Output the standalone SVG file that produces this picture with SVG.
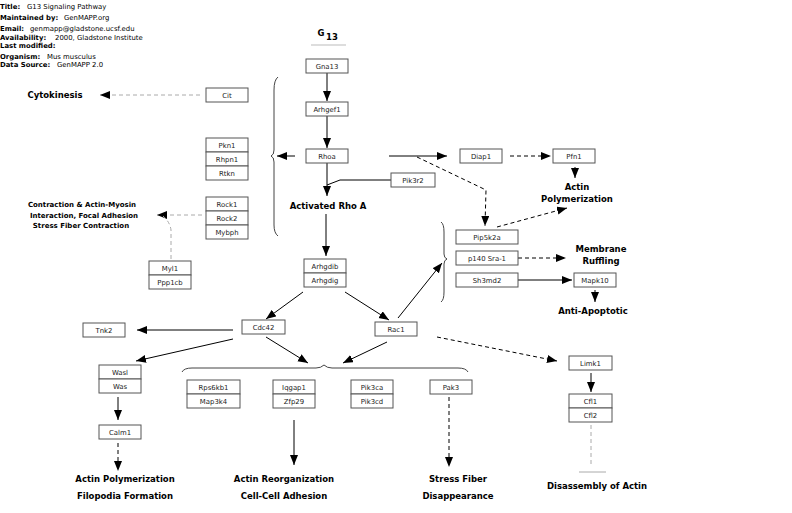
<svg xmlns="http://www.w3.org/2000/svg" width="792" height="513" viewBox="0 0 792 513">
<style>
.box{fill:#fff;stroke:#555;stroke-width:1}
.lbl{font-family:"DejaVu Sans",sans-serif;font-size:6.9px;text-anchor:middle;fill:#222}
.bl{font-family:"DejaVu Sans",sans-serif;font-weight:bold;font-size:8.5px;text-anchor:middle;fill:#000}
.sm{font-family:"DejaVu Sans",sans-serif;font-weight:bold;font-size:7px;text-anchor:middle;fill:#000}
.hd{font-family:"DejaVu Sans",sans-serif;font-size:6.9px;fill:#000}
.hd .k{font-weight:bold}
.ln{stroke:#000;stroke-width:1;fill:none}
.d{stroke-dasharray:4 3}
.g{stroke:#aaa}
.br{stroke:#444;stroke-width:1;fill:none}
</style>
<defs>
<marker id="a" markerUnits="userSpaceOnUse" markerWidth="11" markerHeight="9" refX="10" refY="4" orient="auto">
<path d="M0,0 L10,4 L0,8 z" fill="#000"/>
</marker>
<clipPath id="hc"><rect x="0" y="0" width="143" height="80"/></clipPath>
</defs>

<g id="header" class="hd" clip-path="url(#hc)">
<text y="8.5"><tspan class="k" x="0">Title:</tspan><tspan x="27">G13 Signaling Pathway</tspan></text>
<text y="19.5"><tspan class="k" x="0">Maintained by:</tspan><tspan x="64">GenMAPP.org</tspan></text>
<text y="30.5"><tspan class="k" x="0">Email:</tspan><tspan x="30">genmapp@gladstone.ucsf.edu</tspan></text>
<text y="39.5"><tspan class="k" x="0">Availability:</tspan><tspan x="55">2000, Gladstone Institute</tspan></text>
<text y="47.5"><tspan class="k" x="0">Last modified:</tspan></text>
<text y="58.5"><tspan class="k" x="0">Organism:</tspan><tspan x="47">Mus musculus</tspan></text>
<text y="66.5"><tspan class="k" x="0">Data Source:</tspan><tspan x="57">GenMAPP 2.0</tspan></text>
</g>

<g id="title-g13">
<text x="321" y="36" class="bl">G</text>
<text x="332" y="39.5" class="bl">13</text>
<line x1="311" y1="45" x2="346" y2="45" stroke="#bbb" stroke-width="1"/>
</g>

<g id="connectors">
<path class="ln" d="M327,73 L327,101" marker-end="url(#a)"/>
<path class="ln" d="M327,116 L327,148" marker-end="url(#a)"/>
<path class="ln" d="M327,163 L327,196" marker-end="url(#a)"/>
<path class="ln" d="M391,180 L340,180 L327,185"/>
<path class="ln" d="M295,156 L277,156" marker-end="url(#a)"/>
<path class="ln" d="M389,156 L447,156" marker-end="url(#a)"/>
<path class="ln d" d="M417,157 L486,190 L485,226" marker-end="url(#a)"/>
<path class="ln d" d="M510,156 L551,156" marker-end="url(#a)"/>
<path class="ln" d="M575,167 L575,178" marker-end="url(#a)"/>
<path class="ln d" d="M497,227 L567,208" marker-end="url(#a)"/>
<path class="ln d" d="M518,258 L566,258" marker-end="url(#a)"/>
<path class="ln" d="M518,280 L572,280" marker-end="url(#a)"/>
<path class="ln" d="M595,290 L595,302" marker-end="url(#a)"/>
<path class="ln d g" d="M200,95 L100,95" marker-end="url(#a)"/>
<path class="ln d g" d="M202,215 L157,215" marker-end="url(#a)"/>
<path class="ln d g" d="M171,259 L171,230 Q170,222 163,216"/>
<path class="ln" d="M326,214 L326,256" marker-end="url(#a)"/>
<path class="ln" d="M303,292 L266,319" marker-end="url(#a)"/>
<path class="ln" d="M345,292 L389,320" marker-end="url(#a)"/>
<path class="ln" d="M398,318 L442,263" marker-end="url(#a)"/>
<path class="ln" d="M233,330 L137,330" marker-end="url(#a)"/>
<path class="ln" d="M233,339 L136,361" marker-end="url(#a)"/>
<path class="ln" d="M266,337 L308,363" marker-end="url(#a)"/>
<path class="ln" d="M387,342 L343,363" marker-end="url(#a)"/>
<path class="ln d" d="M437,337 L557,361" marker-end="url(#a)"/>
<path class="ln" d="M591,373 L591,392" marker-end="url(#a)"/>
<path class="ln d g" d="M591,425 L591,466"/>
<path class="ln g" d="M579,472 L606,472"/>
<path class="ln d" d="M449,397 L449,467" marker-end="url(#a)"/>
<path class="ln" d="M294,420 L294,465" marker-end="url(#a)"/>
<path class="ln" d="M118,397 L118,420" marker-end="url(#a)"/>
<path class="ln d" d="M118,443 L118,471" marker-end="url(#a)"/>
<path class="br" d="M278,77 Q274,80 274,90 L274,150 Q274,155 271,156 Q274,157 274,162 L274,225 Q274,233 278,236"/>
<path class="br" d="M441,222 Q444,224 444,232 L444,254 Q444,258 447,259 Q444,260 444,264 L444,292 Q444,300 441,302"/>
<path class="br" d="M182,372 Q184,368 192,368 L316,368 Q321,368 324,365 Q327,368 332,368 L458,368 Q466,368 468,372"/>
</g>

<g id="Gna13"><rect class="box" x="306" y="59" width="42" height="14"/><text class="lbl" x="327" y="68.5">Gna13</text></g>
<g id="Arhgef1"><rect class="box" x="306" y="102" width="42" height="14"/><text class="lbl" x="327" y="111.5">Arhgef1</text></g>
<g id="Rhoa"><rect class="box" x="306" y="149" width="42" height="14"/><text class="lbl" x="327" y="158.5">Rhoa</text></g>
<g id="Pik3r2"><rect class="box" x="391" y="173" width="44" height="14"/><text class="lbl" x="413" y="182.5">Pik3r2</text></g>
<g id="Diap1"><rect class="box" x="460" y="149" width="42" height="14"/><text class="lbl" x="481" y="158.5">Diap1</text></g>
<g id="Pfn1"><rect class="box" x="553" y="149" width="42" height="14"/><text class="lbl" x="574" y="158.5">Pfn1</text></g>
<g id="Cit"><rect class="box" x="206" y="88" width="42" height="14"/><text class="lbl" x="227" y="97.5">Cit</text></g>
<g id="Pkn1"><rect class="box" x="206" y="138" width="42" height="14"/><text class="lbl" x="227" y="147.5">Pkn1</text></g>
<g id="Rhpn1"><rect class="box" x="206" y="152" width="42" height="14"/><text class="lbl" x="227" y="161.5">Rhpn1</text></g>
<g id="Rtkn"><rect class="box" x="206" y="166" width="42" height="14"/><text class="lbl" x="227" y="175.5">Rtkn</text></g>
<g id="Rock1"><rect class="box" x="206" y="197" width="42" height="14"/><text class="lbl" x="227" y="206.5">Rock1</text></g>
<g id="Rock2"><rect class="box" x="206" y="211" width="42" height="14"/><text class="lbl" x="227" y="220.5">Rock2</text></g>
<g id="Mybph"><rect class="box" x="206" y="225" width="42" height="14"/><text class="lbl" x="227" y="234.5">Mybph</text></g>
<g id="Myl1"><rect class="box" x="149" y="261" width="42" height="14"/><text class="lbl" x="170" y="270.5">Myl1</text></g>
<g id="Ppp1cb"><rect class="box" x="149" y="275" width="42" height="14"/><text class="lbl" x="170" y="284.5">Ppp1cb</text></g>
<g id="Arhgdib"><rect class="box" x="304" y="259" width="42" height="14"/><text class="lbl" x="325" y="268.5">Arhgdib</text></g>
<g id="Arhgdig"><rect class="box" x="304" y="273" width="42" height="14"/><text class="lbl" x="325" y="282.5">Arhgdig</text></g>
<g id="Cdc42"><rect class="box" x="242" y="320" width="43" height="14"/><text class="lbl" x="263.5" y="329.5">Cdc42</text></g>
<g id="Rac1"><rect class="box" x="375" y="322" width="42" height="14"/><text class="lbl" x="396" y="331.5">Rac1</text></g>
<g id="Tnk2"><rect class="box" x="83" y="323" width="42" height="14"/><text class="lbl" x="104" y="332.5">Tnk2</text></g>
<g id="Pip5k2a"><rect class="box" x="456" y="230" width="62" height="14"/><text class="lbl" x="487" y="239.5">Pip5k2a</text></g>
<g id="p140Sra1"><rect class="box" x="456" y="251" width="62" height="14"/><text class="lbl" x="487" y="260.5">p140 Sra-1</text></g>
<g id="Sh3md2"><rect class="box" x="456" y="273" width="62" height="14"/><text class="lbl" x="487" y="282.5">Sh3md2</text></g>
<g id="Mapk10"><rect class="box" x="574" y="273" width="42" height="14"/><text class="lbl" x="595" y="282.5">Mapk10</text></g>
<g id="Limk1"><rect class="box" x="569" y="356" width="43" height="14"/><text class="lbl" x="590.5" y="365.5">Limk1</text></g>
<g id="Cfl1"><rect class="box" x="569" y="394" width="43" height="14"/><text class="lbl" x="590.5" y="403.5">Cfl1</text></g>
<g id="Cfl2"><rect class="box" x="569" y="408" width="43" height="14"/><text class="lbl" x="590.5" y="417.5">Cfl2</text></g>
<g id="Wasl"><rect class="box" x="99" y="365" width="42" height="14"/><text class="lbl" x="120" y="374.5">Wasl</text></g>
<g id="Was"><rect class="box" x="99" y="379" width="42" height="14"/><text class="lbl" x="120" y="388.5">Was</text></g>
<g id="Calm1"><rect class="box" x="99" y="425" width="42" height="14"/><text class="lbl" x="120" y="434.5">Calm1</text></g>
<g id="Rps6kb1"><rect class="box" x="187" y="380" width="53" height="14"/><text class="lbl" x="213.5" y="389.5">Rps6kb1</text></g>
<g id="Map3k4"><rect class="box" x="187" y="394" width="53" height="14"/><text class="lbl" x="213.5" y="403.5">Map3k4</text></g>
<g id="Iqgap1"><rect class="box" x="273" y="380" width="42" height="14"/><text class="lbl" x="294" y="389.5">Iqgap1</text></g>
<g id="Zfp29"><rect class="box" x="273" y="394" width="42" height="14"/><text class="lbl" x="294" y="403.5">Zfp29</text></g>
<g id="Pik3ca"><rect class="box" x="351" y="380" width="42" height="14"/><text class="lbl" x="372" y="389.5">Pik3ca</text></g>
<g id="Pik3cd"><rect class="box" x="351" y="394" width="42" height="14"/><text class="lbl" x="372" y="403.5">Pik3cd</text></g>
<g id="Pak3"><rect class="box" x="430" y="380" width="42" height="14"/><text class="lbl" x="451" y="389.5">Pak3</text></g>

<g id="labels">
<text class="bl" x="55" y="98">Cytokinesis</text>
<text class="sm" x="82" y="207">Contraction &amp; Actin-Myosin</text>
<text class="sm" x="84" y="218">Interaction, Focal Adhesion</text>
<text class="sm" x="81" y="228">Stress Fiber Contraction</text>
<text class="bl" x="328" y="209">Activated Rho A</text>
<text class="bl" x="577" y="190">Actin</text>
<text class="bl" x="577" y="202">Polymerization</text>
<text class="bl" x="601" y="252">Membrane</text>
<text class="bl" x="601" y="264">Ruffling</text>
<text class="bl" x="593" y="314">Anti-Apoptotic</text>
<text class="bl" x="125" y="482">Actin Polymerization</text>
<text class="bl" x="125" y="499">Filopodia Formation</text>
<text class="bl" x="284" y="482">Actin Reorganization</text>
<text class="bl" x="284" y="499">Cell-Cell Adhesion</text>
<text class="bl" x="458" y="482">Stress Fiber</text>
<text class="bl" x="458" y="499">Disappearance</text>
<text class="bl" x="597" y="489">Disassembly of Actin</text>
</g>
</svg>
